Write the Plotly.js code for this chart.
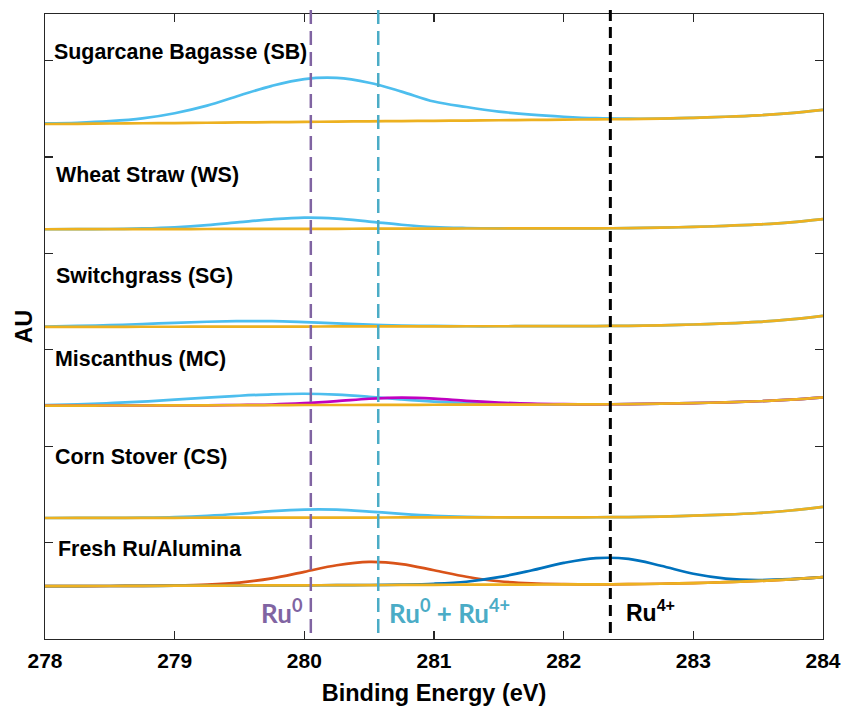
<!DOCTYPE html>
<html>
<head>
<meta charset="utf-8">
<script src="https://cdn.plot.ly/plotly-3.0.1.min.js"></script>
<style>html,body{margin:0;padding:0;background:#fff;}#chart{width:842px;height:706px;}</style>
</head>
<body>
<div id="chart"></div>
<script>
// Binding energy grid (eV)
const energy = [278,278.25,278.5,278.75,279,279.25,279.5,279.75,280,280.25,280.5,280.75,281,281.25,281.5,281.75,282,282.25,282.5,282.75,283,283.25,283.5,283.75,284];

// Sugarcane Bagasse (SB)
const sbBackground = [5.342,5.344,5.347,5.350,5.352,5.355,5.358,5.361,5.364,5.367,5.370,5.372,5.375,5.378,5.381,5.384,5.387,5.390,5.393,5.398,5.406,5.417,5.432,5.455,5.488];
const sbRu0 = [5.348,5.355,5.371,5.400,5.454,5.533,5.638,5.738,5.808,5.820,5.770,5.678,5.575,5.518,5.471,5.439,5.417,5.402,5.397,5.398,5.406,5.417,5.432,5.455,5.488];

// Wheat Straw (WS)
const wsBackground = [4.250,4.251,4.251,4.252,4.252,4.253,4.254,4.254,4.255,4.255,4.256,4.257,4.257,4.258,4.258,4.259,4.259,4.260,4.262,4.267,4.275,4.285,4.300,4.322,4.355];
const wsRu0 = [4.250,4.251,4.253,4.259,4.271,4.293,4.324,4.353,4.370,4.360,4.330,4.297,4.273,4.263,4.259,4.259,4.259,4.260,4.262,4.267,4.275,4.285,4.300,4.322,4.355];

// Switchgrass (SG)
const sgBackground = [3.237,3.238,3.238,3.239,3.239,3.240,3.240,3.241,3.241,3.242,3.242,3.243,3.243,3.244,3.244,3.245,3.245,3.246,3.249,3.254,3.262,3.273,3.289,3.315,3.352];
const sgRu0 = [3.241,3.247,3.255,3.267,3.279,3.291,3.297,3.297,3.287,3.274,3.261,3.252,3.247,3.244,3.244,3.245,3.245,3.246,3.249,3.254,3.262,3.273,3.289,3.315,3.352];

// Miscanthus (MC)
const mcBackground = [2.420,2.421,2.422,2.422,2.423,2.424,2.425,2.426,2.427,2.427,2.428,2.429,2.430,2.431,2.431,2.432,2.433,2.434,2.437,2.441,2.447,2.455,2.466,2.483,2.507];
const mcRu0 = [2.427,2.435,2.447,2.462,2.482,2.503,2.523,2.538,2.544,2.535,2.513,2.485,2.462,2.446,2.437,2.434,2.433,2.434,2.437,2.441,2.447,2.455,2.466,2.483,2.507];
const mcRuMix = [2.420,2.421,2.422,2.422,2.423,2.424,2.427,2.432,2.446,2.467,2.492,2.504,2.494,2.471,2.453,2.441,2.436,2.434,2.437,2.441,2.447,2.455,2.466,2.483,2.507];

// Corn Stover (CS)
const csBackground = [1.255,1.256,1.256,1.257,1.257,1.258,1.258,1.259,1.259,1.260,1.260,1.261,1.261,1.261,1.261,1.262,1.262,1.263,1.265,1.270,1.279,1.290,1.307,1.333,1.370];
const csRu0 = [1.255,1.256,1.256,1.259,1.265,1.278,1.299,1.326,1.342,1.341,1.322,1.298,1.278,1.267,1.263,1.262,1.262,1.263,1.265,1.270,1.279,1.290,1.307,1.333,1.370];

// Fresh Ru/Alumina
const freshBackground = [0.548,0.549,0.550,0.551,0.553,0.554,0.555,0.556,0.557,0.558,0.559,0.561,0.562,0.563,0.564,0.565,0.566,0.567,0.569,0.573,0.580,0.589,0.602,0.619,0.642];
const freshRuMix = [0.548,0.549,0.550,0.552,0.555,0.564,0.585,0.629,0.697,0.765,0.799,0.777,0.713,0.646,0.599,0.577,0.569,0.567,0.569,0.573,0.580,0.589,0.602,0.619,0.642];
const freshRu4 = [0.548,0.549,0.550,0.551,0.553,0.554,0.555,0.556,0.557,0.558,0.560,0.564,0.573,0.594,0.641,0.711,0.789,0.839,0.831,0.760,0.677,0.627,0.612,0.621,0.642];

// Sample labels
const sampleLabels = ["Sugarcane Bagasse (SB)","Wheat Straw (WS)","Switchgrass (SG)","Miscanthus (MC)","Corn Stover (CS)","Fresh Ru/Alumina"];

// Reference binding energies (dashed lines) and labels
const refEnergies = [280.05, 280.57, 282.36];
const refLabels = ["Ru<sup>0</sup>", "Ru<sup>0</sup> + Ru<sup>4+</sup>", "Ru<sup>4+</sup>"];

const C_LB = '#4DBEEE', C_Y = '#EDB120', C_R = '#D95319', C_B = '#0072BD', C_M = '#C000C0';
const LW = 2.7;
function tr(y, color){
  return {x: energy, y: y, type: 'scatter', mode: 'lines', line: {color: color, width: LW, shape: 'spline', smoothing: 1}, hoverinfo: 'skip', showlegend: false};
}
const traces = [
  tr(sbRu0, C_LB), tr(sbBackground, C_Y),
  tr(wsRu0, C_LB), tr(wsBackground, C_Y),
  tr(sgRu0, C_LB), tr(sgBackground, C_Y),
  tr(mcRu0, C_LB), tr(mcRuMix, C_M), tr(mcBackground, C_Y),
  tr(csRu0, C_LB), tr(csBackground, C_Y),
  tr(freshRuMix, C_R), tr(freshRu4, C_B), tr(freshBackground, C_Y)
];

const labelY = [6.09, 4.815, 3.768, 2.904, 1.883, 0.93];
const labelX = [278.055, 278.066, 278.066, 278.058, 278.058, 278.085];
const annotations = sampleLabels.map((t,i)=>({
  x: labelX[i], y: labelY[i], xref: 'x', yref: 'y', text: t, showarrow: false,
  xanchor: 'left', yanchor: 'middle',
  font: {family: 'Liberation Sans, Arial, sans-serif', size: 21.4, weight: 'bold', color: '#000'}
}));
const refColors = ['#8064A2', '#4BACC6', '#000000'];
const refFonts = ['Lato, sans-serif', 'Lato, sans-serif', 'Liberation Sans, Arial, sans-serif'];
const refSizes = [26, 26, 23];
const refLabelX = [279.65, 280.635, 282.465];
refLabels.forEach((t,i)=>{
  annotations.push({x: refLabelX[i], y: 0.29, xref: 'x', yref: 'y', text: t, showarrow: false,
    xanchor: 'left', yanchor: 'middle',
    font: {family: refFonts[i], size: refSizes[i], weight: 'bold', color: refColors[i]}});
});

const dashes = ['14px,7px', '14px,7px', '11px,6px'];
const widths = [2.5, 2.5, 3];
const shapes = refEnergies.map((e,i)=>({
  type: 'line', xref: 'x', yref: 'paper', x0: e, x1: e, y0: 0.0096, y1: 1.008,
  line: {color: refColors[i], width: widths[i], dash: dashes[i]}
}));

const layout = {
  width: 842, height: 706,
  margin: {l: 45, r: 19, t: 14, b: 67},
  paper_bgcolor: '#fff', plot_bgcolor: '#fff',
  showlegend: false,
  xaxis: {
    range: [278, 284], tick0: 278, dtick: 1, ticks: 'inside', ticklen: 8, tickwidth: 1.2, tickcolor: '#262626',
    showline: true, linecolor: '#262626', linewidth: 1.3, mirror: 'ticks', showgrid: false, zeroline: false,
    tickfont: {family: 'Liberation Sans, Arial, sans-serif', size: 21, weight: 'bold', color: '#000'},
    ticklabelstandoff: 2,
    title: {text: 'Binding Energy (eV)', font: {family: 'Liberation Sans, Arial, sans-serif', size: 23.5, weight: 'bold', color: '#000'}, standoff: 14}
  },
  yaxis: {
    range: [0, 6.483], tick0: 0, dtick: 1, ticks: 'inside', ticklen: 8, tickwidth: 1.2, tickcolor: '#262626',
    showline: true, linecolor: '#262626', linewidth: 1.3, mirror: 'ticks', showgrid: false, zeroline: false,
    showticklabels: false,
    title: {text: 'AU', font: {family: 'Liberation Sans, Arial, sans-serif', size: 23, weight: 'bold', color: '#000'}, standoff: 4}
  },
  annotations: annotations,
  shapes: shapes
};
Plotly.newPlot('chart', traces, layout, {staticPlot: true, displayModeBar: false});
</script>
</body>
</html>
